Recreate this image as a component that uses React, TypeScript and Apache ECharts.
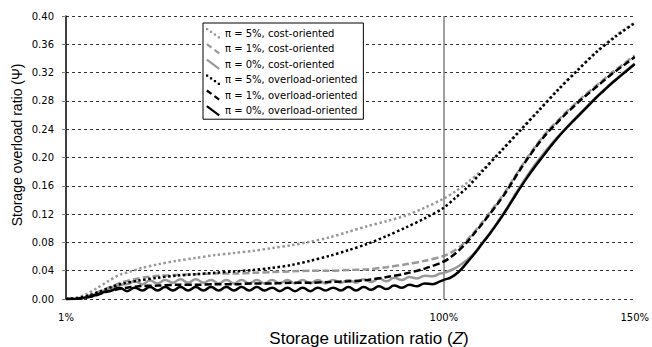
import React, { useEffect, useRef } from "react";
import * as echarts from "echarts";

// Storage overload ratio vs. storage utilization ratio, [Z (%), Ψ]
const costPi5: [number, number][] = [
  [1, 0], [3, 0.001], [6, 0.006], [9, 0.015], [12, 0.025], [15, 0.034], [18, 0.039],
  [21, 0.044], [25, 0.049], [30, 0.054], [35, 0.058], [40, 0.062], [45, 0.065],
  [50, 0.068], [55, 0.072], [60, 0.076], [65, 0.081], [70, 0.087], [75, 0.095],
  [80, 0.103], [85, 0.11], [90, 0.118], [95, 0.129], [100, 0.142], [103, 0.152],
  [106, 0.164], [110, 0.182], [115, 0.21], [120, 0.239], [125, 0.268], [130, 0.297],
  [135, 0.324], [140, 0.35], [145, 0.372], [150, 0.391],
];

const costPi1: [number, number][] = [
  [1, 0], [4, 0.001], [7, 0.005], [10, 0.011], [13, 0.018], [16, 0.024], [19, 0.028],
  [22, 0.031], [26, 0.033], [30, 0.034], [35, 0.035], [40, 0.036], [45, 0.036],
  [50, 0.037], [55, 0.038], [60, 0.039], [65, 0.04], [70, 0.04], [75, 0.041],
  [80, 0.042], [85, 0.045], [90, 0.049], [95, 0.054], [100, 0.061], [102, 0.066],
  [104, 0.073], [106, 0.083], [108, 0.095], [110, 0.108], [112, 0.122], [114, 0.136],
  [116, 0.151], [118, 0.168], [120, 0.185], [122, 0.201], [124, 0.216], [126, 0.23],
  [128, 0.242], [130, 0.253], [132, 0.264], [134, 0.274], [136, 0.284], [138, 0.293],
  [140, 0.302], [142, 0.311], [144, 0.32], [146, 0.328], [148, 0.336], [150, 0.344],
];

const costPi0: [number, number][] = [
  [1, 0], [3, 0], [5, 0.001], [7, 0.004], [9, 0.008], [11, 0.012], [13, 0.016],
  [15, 0.02], [17, 0.021], [19, 0.025], [21, 0.021], [23, 0.026], [25, 0.022],
  [27, 0.027], [29, 0.023], [31, 0.028], [33, 0.023], [35, 0.028], [37, 0.023],
  [39, 0.027], [41, 0.022], [43, 0.027], [45, 0.022], [47, 0.027], [49, 0.022],
  [51, 0.027], [53, 0.022], [55, 0.027], [57, 0.022], [59, 0.027], [61, 0.022],
  [63, 0.027], [65, 0.022], [67, 0.027], [69, 0.022], [71, 0.027], [73, 0.023],
  [75, 0.027], [77, 0.023], [79, 0.028], [81, 0.024], [83, 0.029], [85, 0.025],
  [87, 0.03], [89, 0.027], [91, 0.031], [93, 0.029], [95, 0.033], [97, 0.032],
  [99, 0.036], [100, 0.037], [102, 0.041], [104, 0.047], [106, 0.055], [108, 0.065],
  [110, 0.079], [112, 0.093], [116, 0.124], [120, 0.159], [126, 0.205], [134, 0.253],
  [142, 0.296], [150, 0.333],
];

const overloadPi5: [number, number][] = [
  [1, 0], [4, 0.001], [7, 0.005], [10, 0.011], [13, 0.017], [16, 0.022], [20, 0.026],
  [25, 0.03], [30, 0.033], [35, 0.035], [40, 0.037], [45, 0.039], [50, 0.041],
  [55, 0.044], [60, 0.048], [65, 0.054], [70, 0.061], [75, 0.069], [80, 0.078],
  [85, 0.089], [90, 0.101], [95, 0.114], [100, 0.129], [103, 0.143], [106, 0.157],
  [110, 0.18], [115, 0.209], [120, 0.238], [125, 0.267], [130, 0.296], [135, 0.323],
  [140, 0.349], [145, 0.371], [150, 0.39],
];

const overloadPi1: [number, number][] = [
  [1, 0], [5, 0.001], [8, 0.004], [11, 0.009], [14, 0.013], [17, 0.016], [20, 0.018],
  [25, 0.019], [30, 0.02], [35, 0.02], [40, 0.021], [45, 0.021], [50, 0.022],
  [55, 0.022], [60, 0.023], [65, 0.023], [70, 0.024], [75, 0.025], [80, 0.027],
  [85, 0.031], [90, 0.036], [95, 0.043], [100, 0.053], [102, 0.06], [104, 0.069],
  [106, 0.08], [108, 0.093], [110, 0.106], [112, 0.12], [114, 0.134], [116, 0.149],
  [118, 0.166], [120, 0.183], [122, 0.199], [124, 0.214], [126, 0.228], [128, 0.24],
  [130, 0.251], [132, 0.262], [134, 0.272], [136, 0.282], [138, 0.291], [140, 0.3],
  [142, 0.309], [144, 0.318], [146, 0.326], [148, 0.334], [150, 0.342],
];

const overloadPi0: [number, number][] = [
  [1, 0], [3, 0], [5, 0.001], [7, 0.003], [9, 0.006], [11, 0.01], [13, 0.012],
  [15, 0.016], [17, 0.011], [19, 0.016], [21, 0.012], [23, 0.017], [25, 0.012],
  [27, 0.017], [29, 0.012], [31, 0.017], [33, 0.012], [35, 0.017], [37, 0.012],
  [39, 0.017], [41, 0.012], [43, 0.017], [45, 0.012], [47, 0.017], [49, 0.012],
  [51, 0.017], [53, 0.012], [55, 0.016], [57, 0.011], [59, 0.016], [61, 0.011],
  [63, 0.016], [65, 0.011], [67, 0.016], [69, 0.012], [71, 0.016], [73, 0.012],
  [75, 0.017], [77, 0.012], [79, 0.017], [81, 0.013], [83, 0.018], [85, 0.014],
  [87, 0.019], [89, 0.016], [91, 0.02], [93, 0.018], [95, 0.022], [97, 0.021],
  [99, 0.025], [100, 0.027], [102, 0.031], [104, 0.039], [106, 0.051], [108, 0.064],
  [110, 0.078], [112, 0.092], [114, 0.107], [116, 0.123], [118, 0.14], [120, 0.157],
  [122, 0.173], [124, 0.188], [126, 0.202], [128, 0.216], [130, 0.229], [132, 0.241],
  [134, 0.252], [136, 0.263], [138, 0.274], [140, 0.285], [142, 0.295], [144, 0.305],
  [146, 0.314], [148, 0.323], [150, 0.332],
];

const seriesNames = [
  "π = 5%, cost-oriented",
  "π = 1%, cost-oriented",
  "π = 0%, cost-oriented",
  "π = 5%, overload-oriented",
  "π = 1%, overload-oriented",
  "π = 0%, overload-oriented",
];

const xTickValues = [1, 100, 150];
const thresholdZ = 100;

const GRAY = "#999999";
const BLACK = "#000000";

// short diagonal legend marks
const ICON_DOTTED =
  "path://M0.5,0.5h2.2v2.2h-2.2z M4.3,3.2h2.2v2.2h-2.2z M8.1,5.9h2.2v2.2h-2.2z M11.9,8.6h2.2v2.2h-2.2z";
const ICON_DASHED =
  "path://M0.16,1.8L4.86,5.2L6.14,3.4L1.44,0Z M7.86,7.5L12.56,11L13.84,9.2L9.14,5.7Z";
const ICON_SOLID = "path://M0.16,1.8L12.56,11L13.84,9.2L1.44,0Z";

const styles = [
  { color: GRAY, type: [2.5, 2.5], icon: ICON_DOTTED, data: costPi5, smooth: 0.3 },
  { color: GRAY, type: [7, 3], icon: ICON_DASHED, data: costPi1, smooth: 0.3 },
  { color: GRAY, type: "solid", icon: ICON_SOLID, data: costPi0, smooth: 0.5 },
  { color: BLACK, type: [2.5, 2.5], icon: ICON_DOTTED, data: overloadPi5, smooth: 0.3 },
  { color: BLACK, type: [7, 3], icon: ICON_DASHED, data: overloadPi1, smooth: 0.3 },
  { color: BLACK, type: "solid", icon: ICON_SOLID, data: overloadPi0, smooth: 0.5 },
];

export default function App() {
  const ref = useRef<HTMLDivElement>(null);

  useEffect(() => {
    document.body.style.margin = "0";
    if (!ref.current) return;
    const chart = echarts.init(ref.current, null, { renderer: "svg" });

    const series: any[] = styles.map((s, i) => ({
      name: seriesNames[i],
      type: "line",
      data: s.data,
      smooth: s.smooth,
      showSymbol: false,
      symbol: "none",
      color: s.color,
      lineStyle: { color: s.color, width: 2.5, type: s.type, cap: "butt" },
      z: 3 + i,
      ...(i === 0
        ? {
            markLine: {
              silent: true,
              symbol: "none",
              label: { show: false },
              lineStyle: { color: "#808080", width: 1.5, type: "solid" },
              data: [{ xAxis: thresholdZ }],
            },
          }
        : {}),
    }));

    chart.setOption({
      animation: false,
      backgroundColor: "#ffffff",
      grid: { left: 66, right: 16, top: 16, bottom: 48 },
      legend: {
        orient: "vertical",
        left: 203,
        top: 23,
        itemWidth: 14,
        itemHeight: 11,
        itemGap: 4.6,
        padding: [5, 6, 3, 3],
        borderColor: "#000",
        borderWidth: 1,
        backgroundColor: "#fff",
        itemStyle: { borderWidth: 0 },
        textStyle: { fontFamily: "DejaVu Sans", fontSize: 10, color: "#000" },
        data: seriesNames.map((n, i) => ({ name: n, icon: styles[i].icon })),
      },
      xAxis: {
        type: "value",
        min: 1,
        max: 150,
        axisLine: { show: false },
        axisTick: { show: false },
        splitLine: { show: false },
        axisLabel: {
          customValues: xTickValues,
          formatter: "{value}%",
          margin: 13,
          fontFamily: "DejaVu Sans",
          fontSize: 10,
          color: "#000",
        },
      },
      yAxis: {
        type: "value",
        min: 0,
        max: 0.4,
        interval: 0.04,
        axisLine: { show: true, lineStyle: { color: "#000", width: 1.5 } },
        axisTick: { show: true, length: 4, lineStyle: { color: "#808080" } },
        splitLine: { show: true, lineStyle: { color: "#333", width: 1, type: [3, 3] } },
        axisLabel: {
          formatter: (v: number) => v.toFixed(2),
          margin: 12,
          fontFamily: "DejaVu Sans",
          fontSize: 10,
          color: "#000",
        },
      },
      graphic: [
        {
          type: "text",
          x: 17,
          y: 145,
          rotation: Math.PI / 2,
          style: {
            text: "Storage overload ratio (Ψ)",
            font: "14px 'Liberation Sans'",
            fill: "#000",
            align: "center",
            verticalAlign: "middle",
          },
        },
        {
          type: "text",
          x: 369,
          y: 338,
          style: {
            text: "Storage utilization ratio ({i|Z})",
            font: "17px 'Liberation Sans'",
            fill: "#000",
            align: "center",
            verticalAlign: "middle",
            rich: {
              i: { fontStyle: "italic", fontFamily: "Liberation Sans", fontSize: 17, fill: "#000" },
            },
          },
        },
      ],
      series,
    });

    return () => chart.dispose();
  }, []);

  return <div ref={ref} style={{ width: 652, height: 347 }} />;
}
